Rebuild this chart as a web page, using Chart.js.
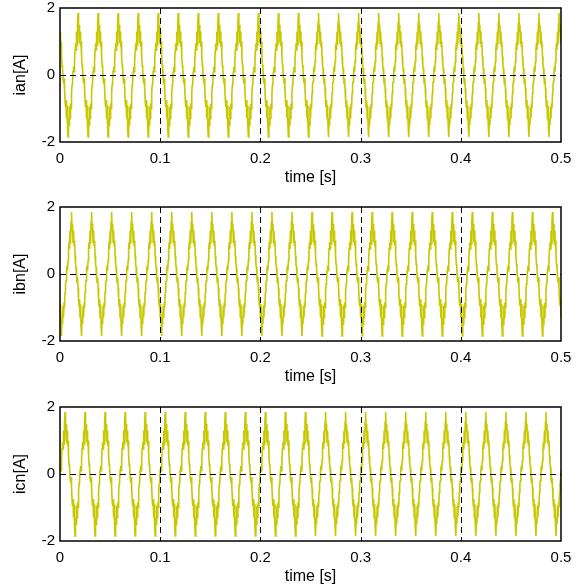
<!DOCTYPE html>
<html>
<head>
<meta charset="utf-8">
<script src="https://cdn.jsdelivr.net/npm/chart.js@4.4.1/dist/chart.umd.min.js"></script>
<style>
  html, body { margin: 0; padding: 0; background: #fff; overflow: hidden; }
  .plot { position: absolute; left: 0; width: 581px; height: 200px; }
</style>
</head>
<body>
<div class="plot" style="top:0px"><canvas id="chartA" width="581" height="200"></canvas></div>
<div class="plot" style="top:199px"><canvas id="chartB" width="581" height="200"></canvas></div>
<div class="plot" style="top:399px"><canvas id="chartC" width="581" height="200"></canvas></div>
<script>
(function () {
    'use strict';

    const sampleStep = 0.0005;
    const cycleCount = 25;

    const cycleA = [1.3, 0.85, 1.0, 0.55, 0.3, 0.2, -0.1, -0.25, -0.1, -0.4,
        -0.75, -0.95, -0.75, -1.3, -0.9, -1.55, -1.85, -1.3, -1.5, -0.95,
        -1.3, -0.85, -1.0, -0.55, -0.3, -0.2, 0.1, 0.25, 0.1, 0.4,
        0.75, 0.95, 0.75, 1.3, 0.9, 1.55, 1.85, 1.3, 1.5, 0.95];

    const cycleB = [-1.3, -0.9, -1.55, -1.85, -1.3, -1.5, -0.95, -1.3, -0.85, -1.0,
        -0.55, -0.3, -0.2, 0.1, 0.25, 0.1, 0.4, 0.75, 0.95, 0.75,
        1.3, 0.9, 1.55, 1.85, 1.3, 1.5, 0.95, 1.3, 0.85, 1.0,
        0.55, 0.3, 0.2, -0.1, -0.25, -0.1, -0.4, -0.75, -0.95, -0.75];

    const cycleC = [0.1, 0.25, 0.1, 0.4, 0.75, 0.95, 0.75, 1.3, 0.9, 1.55,
        1.85, 1.3, 1.5, 0.95, 1.3, 0.85, 1.0, 0.55, 0.3, 0.2,
        -0.1, -0.25, -0.1, -0.4, -0.75, -0.95, -0.75, -1.3, -0.9, -1.55,
        -1.85, -1.3, -1.5, -0.95, -1.3, -0.85, -1.0, -0.55, -0.3, -0.2];

    const xTicks = [0, 0.1, 0.2, 0.3, 0.4, 0.5];
    const yTicks = [-2, 0, 2];
    const xLabel = "time [s]";
    const yLabels = ["ian[A]", "ibn[A]", "icn[A]"];

    const lineColor = "rgb(200,200,0)";
    const fontFamily = "'Liberation Sans', Arial, sans-serif";

    // repeat the measured cycle over the whole 0.5 s record
    function buildSeries(cycle) {
        const pts = [];
        for (let k = 0; k < cycleCount; k++) {
            cycle.forEach((v, i) => {
                pts.push({ x: +((k * cycle.length + i) * sampleStep).toFixed(4), y: v });
            });
        }
        pts.push({ x: cycleCount * cycle.length * sampleStep, y: cycle[0] });
        return pts;
    }

    // dashed grid on the inner ticks and a full black frame, MATLAB style
    const framePlugin = {
        id: "frame",
        afterDatasetsDraw(chart) {
            const { ctx, chartArea: a, scales } = chart;
            ctx.save();
            ctx.strokeStyle = "#000";
            ctx.lineWidth = 1;
            ctx.setLineDash([6, 4]);
            xTicks.slice(1, -1).forEach(t => {
                const px = Math.round(scales.x.getPixelForValue(t)) + 0.5;
                ctx.beginPath();
                ctx.moveTo(px, a.top);
                ctx.lineTo(px, a.bottom);
                ctx.stroke();
            });
            const py = Math.round(scales.y.getPixelForValue(0)) + 0.5;
            ctx.beginPath();
            ctx.moveTo(a.left, py);
            ctx.lineTo(a.right, py);
            ctx.stroke();
            ctx.setLineDash([]);
            ctx.lineWidth = 1.5;
            ctx.strokeRect(a.left, a.top, a.right - a.left, a.bottom - a.top);
            ctx.restore();
        }
    };

    function drawPlot(id, cycle, yLabel) {
        const ctx = document.getElementById(id);
        if (!ctx) return;
        new Chart(ctx, {
            type: "line",
            data: {
                datasets: [{
                    data: buildSeries(cycle),
                    borderColor: lineColor,
                    borderWidth: 1.6,
                    pointRadius: 0,
                    tension: 0
                }]
            },
            options: {
                responsive: false,
                animation: false,
                parsing: false,
                normalized: true,
                layout: { padding: { top: 8, right: 20, left: 0, bottom: 0 } },
                plugins: { legend: { display: false }, tooltip: { enabled: false } },
                scales: {
                    x: {
                        type: "linear",
                        min: 0,
                        max: 0.5,
                        afterBuildTicks: s => { s.ticks = xTicks.map(v => ({ value: v })); },
                        afterFit: s => { s.height = 58; },
                        grid: { display: false, drawTicks: false },
                        border: { display: false },
                        ticks: {
                            color: "#000",
                            padding: 8,
                            maxRotation: 0,
                            font: { family: fontFamily, size: 15 },
                            callback: v => String(v)
                        },
                        title: {
                            display: true,
                            text: xLabel,
                            color: "#000",
                            font: { family: fontFamily, size: 16 },
                            padding: { top: 0, bottom: 13 }
                        }
                    },
                    y: {
                        type: "linear",
                        min: -2,
                        max: 2,
                        afterBuildTicks: s => { s.ticks = yTicks.map(v => ({ value: v })); },
                        afterFit: s => { s.width = 60; s.paddingTop = 0; s.paddingBottom = 0; },
                        grid: { display: false, drawTicks: false },
                        border: { display: false },
                        ticks: {
                            color: "#000",
                            padding: 5,
                            font: { family: fontFamily, size: 15 },
                            callback: v => String(v)
                        },
                        title: {
                            display: true,
                            text: yLabel,
                            color: "#000",
                            font: { family: fontFamily, size: 16 },
                            padding: { top: 11, bottom: 0 }
                        }
                    }
                }
            },
            plugins: [framePlugin]
        });
    }

    drawPlot("chartA", cycleA, yLabels[0]);
    drawPlot("chartB", cycleB, yLabels[1]);
    drawPlot("chartC", cycleC, yLabels[2]);
})();
</script>
</body>
</html>
